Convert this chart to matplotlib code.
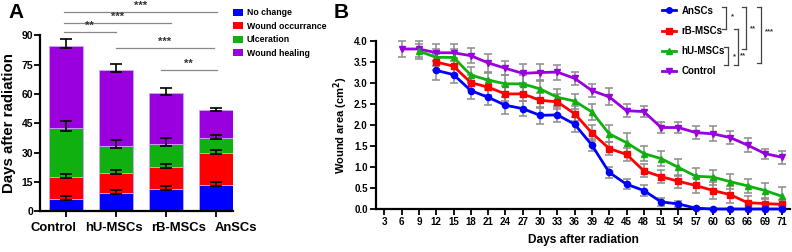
import matplotlib
matplotlib.use("Agg")
import matplotlib.pyplot as plt
import matplotlib.transforms as mtransforms
from matplotlib import font_manager
from matplotlib.lines import Line2D
from matplotlib.patches import Patch
import numpy as np

plt.rcParams['font.family'] = ['Liberation Sans', 'DejaVu Sans']
plt.rcParams['font.weight'] = 'bold'

# narrow face for the stage legend if it is there
narrow_names = {f.name for f in font_manager.fontManager.ttflist}
legend_family = "Liberation Sans Narrow" if "Liberation Sans Narrow" in narrow_names else "Liberation Sans"
legend_size = 7.5 if legend_family == "Liberation Sans Narrow" else 6.3

# ---- panel A data ----
groups = ["Control", "hU-MSCs", "rB-MSCs", "AnSCs"]
stages = ["No change", "Wound occurrance", "Ulceration", "Wound healing"]
stage_colors = ["#0000ff", "#ff0000", "#11b011", "#9900dd"]
no_change = [6.3, 9.5, 11.4, 13.5]
occurrence = [11.3, 10.1, 11.3, 16.2]
ulceration = [25.0, 14.0, 11.9, 8.0]
healing = [42.1, 38.8, 26.1, 13.9]
no_change_err = [1.7, 1.6, 1.7, 1.5]
occurrence_err = [1.5, 1.7, 1.5, 1.5]
ulceration_err = [3.8, 2.7, 2.7, 1.5]
healing_err = [3.6, 2.9, 2.5, 1.4]
sig_x1 = [-0.04, -0.04, -0.04, 1.0, 1.9]
sig_x2 = [1.0, 2.1, 3.02, 2.96, 3.02]
sig_y = [91.5, 96.1, 102.0, 83.3, 72.1]
sig_lbl = ["**", "***", "***", "***", "**"]
label_shift_px = [-12, -2, 13, 20]   # tick labels sit off their bars in the source

# ---- panel B data ----
days = ["3", "6", "9", "12", "15", "18", "21", "24", "27", "30", "33", "36",
        "39", "42", "45", "48", "51", "54", "57", "60", "63", "66", "69", "71"]
ctrl = [np.nan, 3.81, 3.81, 3.72, 3.72, 3.65, 3.48, 3.35, 3.23, 3.25, 3.26, 3.11,
        2.82, 2.67, 2.34, 2.32, 1.94, 1.94, 1.82, 1.79, 1.70, 1.52, 1.32, 1.23]
ctrl_err = [0, 0.18, 0.18, 0.2, 0.2, 0.18, 0.22, 0.17, 0.22, 0.2, 0.18, 0.15,
            0.15, 0.2, 0.15, 0.13, 0.13, 0.13, 0.15, 0.18, 0.15, 0.17, 0.12, 0.15]
hu = [np.nan, np.nan, 3.76, 3.61, 3.61, 3.19, 3.07, 2.98, 2.98, 2.86, 2.66, 2.57,
      2.31, 1.79, 1.58, 1.32, 1.20, 0.99, 0.78, 0.76, 0.65, 0.55, 0.44, 0.30]
hu_err = [0, 0, 0.18, 0.2, 0.2, 0.2, 0.18, 0.2, 0.22, 0.22, 0.2, 0.18,
          0.2, 0.2, 0.22, 0.18, 0.18, 0.2, 0.2, 0.18, 0.18, 0.17, 0.17, 0.22]
rb = [np.nan, np.nan, np.nan, 3.50, 3.40, 3.01, 2.90, 2.74, 2.74, 2.59, 2.55, 2.27,
      1.81, 1.44, 1.30, 0.91, 0.77, 0.66, 0.56, 0.44, 0.34, 0.15, 0.13, 0.11]
rb_err = [0, 0, 0, 0.2, 0.2, 0.18, 0.18, 0.18, 0.18, 0.18, 0.18, 0.18,
          0.18, 0.15, 0.15, 0.15, 0.15, 0.15, 0.18, 0.2, 0.2, 0.15, 0.12, 0.1]
ans = [np.nan, np.nan, np.nan, 3.30, 3.20, 2.82, 2.66, 2.47, 2.39, 2.23, 2.24, 2.02,
       1.52, 0.87, 0.59, 0.44, 0.17, 0.12, 0.02, 0.0, 0.0, 0.0, 0.0, 0.0]
ans_err = [0, 0, 0, 0.22, 0.2, 0.2, 0.18, 0.2, 0.18, 0.2, 0.18, 0.18,
           0.15, 0.12, 0.12, 0.12, 0.1, 0.08, 0.02, 0, 0, 0, 0, 0]

fig = plt.figure(figsize=(7.92, 2.52), dpi=100)

# ---------------- panel A ----------------
axA = fig.add_axes([40 / 792, 1 - 211.3 / 252, 193 / 792, 176 / 252])
x = np.arange(len(groups))
segs = [no_change, occurrence, ulceration, healing]
errs = [no_change_err, occurrence_err, ulceration_err, healing_err]
bottom = np.zeros(len(groups))
for seg, err, col in zip(segs, errs, stage_colors):
    seg = np.array(seg)
    axA.bar(x, seg, 0.68, bottom=bottom, color=col, edgecolor="#c9a6ff", linewidth=0.6, zorder=2)
    top = bottom + seg
    axA.errorbar(x, top, yerr=[np.array(err) * 0.4, err], fmt="none", ecolor="black",
                 elinewidth=1.2, capsize=4, capthick=1.2, zorder=3)
    bottom = top

axA.set_xlim(-0.52, 3.35)
axA.set_ylim(0, 90)
axA.set_yticks(np.arange(0, 91, 15))
axA.set_xticks(x)
axA.tick_params(axis="y", labelsize=7.5, width=1.3, length=4, pad=1)
axA.tick_params(axis="x", width=1.3, length=4, pad=4)
axA.set_xticklabels(groups, fontsize=9.4, fontweight="bold")
for lab, dx in zip(axA.get_xticklabels(), label_shift_px):
    lab.set_transform(lab.get_transform() + mtransforms.ScaledTranslation(dx / 100, 0, fig.dpi_scale_trans))
for s in ["top", "right"]:
    axA.spines[s].set_visible(False)
for s in ["left", "bottom"]:
    axA.spines[s].set_linewidth(1.6)
axA.set_ylabel("Days after radiation", fontsize=10.8, fontweight="bold", labelpad=4)

for x1, x2, yy, lbl in zip(sig_x1, sig_x2, sig_y, sig_lbl):
    axA.plot([x1, x2], [yy, yy], color="#888888", lw=0.9, clip_on=False)
    axA.text((x1 + x2) / 2, yy + 0.6, lbl, ha="center", va="bottom", fontsize=8,
             color="#333333", clip_on=False)

handlesA = [Patch(facecolor=c, edgecolor="none") for c in stage_colors]
fig.legend(handlesA, stages, loc="upper left", bbox_to_anchor=(225 / 792, 1 - 0.5 / 252),
           frameon=False, handlelength=1.15, handleheight=0.87,
           handletextpad=0.45, labelspacing=0.5,
           prop={"family": legend_family, "weight": "bold", "size": legend_size})

fig.text(8 / 792, 1 - 12 / 252, "A", fontsize=15, fontweight="bold", va="center")
fig.text(334 / 792, 1 - 12 / 252, "B", fontsize=15, fontweight="bold", va="center")

# ---------------- panel B ----------------
axB = fig.add_axes([376 / 792, 1 - 209 / 252, 414 / 792, 168 / 252])
xi = np.arange(len(days))
series = [(ans, ans_err, "#0000ff", "o", "AnSCs"),
          (rb, rb_err, "#ff0000", "s", "rB-MSCs"),
          (hu, hu_err, "#11b011", "^", "hU-MSCs"),
          (ctrl, ctrl_err, "#9900dd", "v", "Control")]
for vals, err, col, mk, name in series[::-1]:
    vals = np.array(vals, dtype=float)
    err = np.array(err, dtype=float)
    axB.errorbar(xi, vals, yerr=err, fmt="none", ecolor="#8c8c8c", elinewidth=1.1,
                 capsize=3, capthick=1.1, zorder=2, clip_on=False)
for vals, err, col, mk, name in series[::-1]:
    axB.plot(xi, vals, color=col, lw=2, marker=mk, markersize=4.5, zorder=3, clip_on=False)

axB.set_xlim(-0.48, 23.45)
axB.set_ylim(0, 4.0)
axB.set_xticks(xi)
axB.set_xticklabels(days)
axB.set_yticks(np.arange(0, 4.01, 0.5))
axB.set_yticklabels([f"{v:.1f}" for v in np.arange(0, 4.01, 0.5)])
axB.tick_params(labelsize=7, width=1.3, length=4, pad=2)
for s in ["top", "right"]:
    axB.spines[s].set_visible(False)
for s in ["left", "bottom"]:
    axB.spines[s].set_linewidth(1.6)
axB.set_ylabel("Wound area (cm$^\\mathbf{2}$)", fontsize=8, fontweight="bold", labelpad=3)
axB.set_xlabel("Days after radiation", fontsize=8.6, fontweight="bold", labelpad=5)

handlesB = [Line2D([0], [0], color=c, lw=2, marker=m, markersize=4) for _, _, c, m, _ in series]
fig.legend(handlesB, [s[4] for s in series], loc="upper left",
           bbox_to_anchor=(653 / 792, 1 + 3 / 252), frameon=False, fontsize=7,
           handlelength=1.45, handletextpad=0.6, labelspacing=1.05)

# significance brackets beside legend (figure pixels)
brackets = [(726, 7, 29, "*", 731, 17), (728, 47, 65, "*", 733, 57), (738, 29, 65, "**", 740, 56),
            (746, 7, 49, "**", 750, 29), (761, 7, 63, "***", 765, 32)]
for bx, y1, y2, lbl, tx, ty in brackets:
    fx = bx / 792
    fig.add_artist(Line2D([fx, fx], [1 - y1 / 252, 1 - y2 / 252], color="#444444", lw=0.9))
    for yy in (y1, y2):
        fig.add_artist(Line2D([fx - 4 / 792, fx], [1 - yy / 252, 1 - yy / 252], color="#444444", lw=0.9))
    fig.text(tx / 792, 1 - ty / 252, lbl, fontsize=5.5, color="#333333", va="center", ha="left")

fig.savefig("out.png", dpi=100)
